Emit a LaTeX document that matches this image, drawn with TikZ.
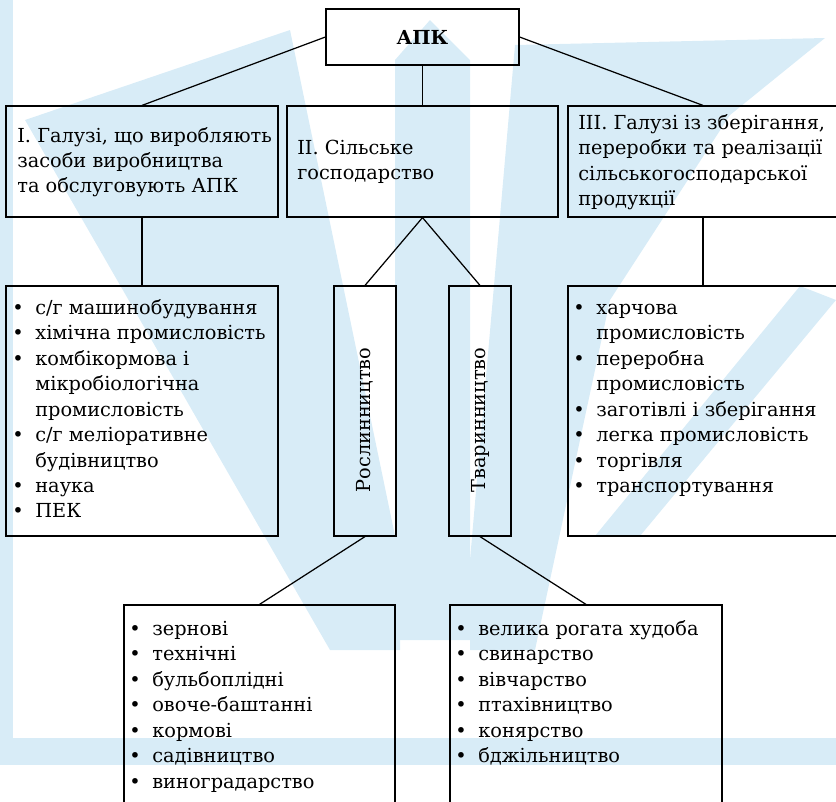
\documentclass[tikz,border=0pt]{standalone}
\usepackage{fontspec}
\setmainfont{DejaVu Serif}
\definecolor{wmblue}{RGB}{216,236,247}
\newcommand{\bl}{\strut\makebox[0.46cm][l]{\textbullet}}
\newcommand{\nb}{\strut\hspace*{0.46cm}}

\begin{document}
\begin{tikzpicture}[x=0.02cm, y=-0.02cm,
	box/.style={draw, line width=0.7pt, inner sep=0pt},
	txt/.style={inner sep=0pt, align=left, font=\fontsize{11}{14.4}\selectfont},
	lst/.style={inner sep=0pt, align=left, anchor=north west, font=\fontsize{11}{14.5}\selectfont}]
	\clip (0,0) rectangle (836,802);
	
	% watermark
	\fill[wmblue] (0,0) rectangle (13,745);
	\fill[wmblue] (0,738) rectangle (836,765);
	\fill[wmblue] (430,20) -- (470,60) -- (470,640) -- (395,640) -- (395,60) -- cycle;
	\fill[wmblue] (25,120) -- (290,30) -- (400,560) -- (400,650) -- (330,650) -- cycle;
	\fill[wmblue] (825,38) -- (730,115) -- (610,300) -- (535,650) -- (470,650) -- (470,560) -- (515,45) -- cycle;
	\fill[wmblue] (800,286) -- (836,300) -- (640,536) -- (595,536) -- cycle;
	
	\node[box, minimum width=3.86cm, minimum height=1.12cm, font=\fontsize{11}{14}\selectfont\bfseries] (apk) at (422.5,37) {АПК};
	
	\node[box, minimum width=5.44cm, minimum height=2.22cm] (g1) at (142,161.5) {};
	\node[box, minimum width=5.42cm, minimum height=2.22cm] (g2) at (422.5,161.5) {};
	\node[box, minimum width=5.40cm, minimum height=2.22cm] (g3) at (703,161.5) {};
	\node[txt, anchor=west] (g1t) at (17,162) {I. Галузі, що виробляють\\засоби виробництва\\та обслуговують АПК};
	\node[txt, anchor=west] (g2t) at (297,161.5) {II. Сільське\\господарство};
	\node[txt, anchor=west] (g3t) at (578,162) {III. Галузі із зберігання,\\переробки та реалізації\\сільськогосподарської\\продукції};
	
	\node[box, minimum width=5.44cm, minimum height=5cm] (l1) at (142,411) {};
	\node[box, minimum width=1.24cm, minimum height=5cm] (rosl) at (365,411) {};
	\node[box, minimum width=1.24cm, minimum height=5cm] (tvar) at (480,411) {};
	\node[box, minimum width=5.40cm, minimum height=5cm] (l3) at (703,411) {};
	\node[txt, rotate=90] (roslt) at (365,420) {Рослинництво};
	\node[txt, rotate=90] (tvart) at (480,420) {Тваринництво};
	
	\node[lst] (l1t) at (12,296) {\bl с/г машинобудування\\\bl хімічна промисловість\\\bl комбікормова і\\\nb мікробіологічна\\\nb промисловість\\\bl с/г меліоративне\\\nb будівництво\\\bl наука\\\bl ПЕК};
	\node[lst] (l3t) at (573,296) {\bl харчова\\\nb промисловість\\\bl переробна\\\nb промисловість\\\bl заготівлі і зберігання\\\bl легка промисловість\\\bl торгівля\\\bl транспортування};
	
	\node[box, minimum width=5.42cm, minimum height=4.2cm] (rl) at (259.5,710) {};
	\node[box, minimum width=5.44cm, minimum height=4.2cm] (tl) at (586,710) {};
	\node[lst] (rlt) at (129,617) {\bl зернові\\\bl технічні\\\bl бульбоплідні\\\bl овоче-баштанні\\\bl кормові\\\bl садівництво\\\bl виноградарство};
	\node[lst] (tlt) at (455,617) {\bl велика рогата худоба\\\bl свинарство\\\bl вівчарство\\\bl птахівництво\\\bl конярство\\\bl бджільництво};
	
	\draw[line width=0.7pt] (apk.west) -- (g1.north);
	\draw[line width=0.7pt] (apk.south) -- (g2.north);
	\draw[line width=0.7pt] (apk.east) -- (g3.north);
	\draw[line width=0.7pt] (g1.south) -- (l1.north);
	\draw[line width=0.7pt] (g3.south) -- (l3.north);
	\draw[line width=0.7pt] (g2.south) -- (rosl.north);
	\draw[line width=0.7pt] (g2.south) -- (tvar.north);
	\draw[line width=0.7pt] (rosl.south) -- (rl.north);
	\draw[line width=0.7pt] (tvar.south) -- (tl.north);
\end{tikzpicture}
\end{document}
